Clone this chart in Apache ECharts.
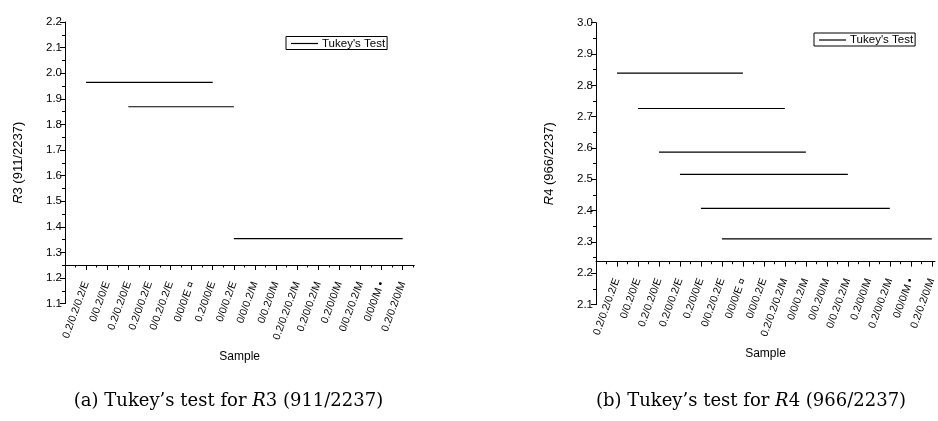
<!DOCTYPE html>
<html>
<head>
<meta charset="utf-8">
<script src="https://cdn.jsdelivr.net/npm/echarts@6/dist/echarts.min.js"></script>
<style>
html,body{margin:0;padding:0;background:#fff;}
#chart{width:938px;height:421px;}
</style>
</head>
<body>
<div id="chart"></div>
<script>
// ---------- DATA ----------
const r3Categories = ['0.2/0.2/0.2/E','0/0.2/0/E','0.2/0.2/0/E','0.2/0/0.2/E','0/0.2/0.2/E','0/0/0/E \u00a4','0.2/0/0/E','0/0/0.2/E','0/0/0.2/M','0/0.2/0/M','0.2/0.2/0.2/M','0.2/0/0.2/M','0.2/0/0/M','0/0.2/0.2/M','0/0/0/M \u2022','0.2/0.2/0/M'];
const r4Categories = ['0.2/0.2/0.2/E','0/0.2/0/E','0.2/0.2/0/E','0.2/0/0.2/E','0.2/0/0/E','0/0.2/0.2/E','0/0/0/E \u00a4','0/0/0.2/E','0.2/0.2/0.2/M','0/0/0.2/M','0/0.2/0/M','0/0.2/0.2/M','0.2/0/0/M','0.2/0/0.2/M','0/0/0/M \u2022','0.2/0.2/0/M'];
// Tukey groups: start category (1-based), end category, mean value
const r3Start = [1, 3, 8];
const r3End   = [7, 8, 16];
const r3Value = [1.964, 1.869, 1.354];
const r4Start = [1, 2, 3, 4, 5, 6];
const r4End   = [7, 9, 10, 12, 14, 16];
const r4Value = [2.839, 2.726, 2.587, 2.516, 2.407, 2.310];
const r3YTicks = [1.1, 2.2];
const r4YTicks = [2.1, 3.0];
const seriesName = "Tukey's Test";

// ---------- CHART ----------
const chart = echarts.init(document.getElementById('chart'), null, {renderer: 'canvas'});
const sans = 'Liberation Sans, Arial, sans-serif';

function xAxis(gi, cats, max, offset, nameGap) {
  const pos = cats.map((c, i) => i + 1);
  return {
    gridIndex: gi, type: 'value', min: 0, max: max, interval: 1,
    position: 'bottom', offset: offset,
    axisLine: {onZero: false, lineStyle: {color: '#000', width: 1}},
    axisTick: {show: true, length: 5, customValues: pos, lineStyle: {color: '#000', width: 1}},
    minorTick: {show: true, splitNumber: 2, length: 2.5, lineStyle: {color: '#000', width: 1}},
    axisLabel: {
      customValues: pos,
      formatter: v => cats[Math.round(v) - 1] || '',
      rotate: 70, margin: 17, fontSize: 10.5, color: '#000', fontFamily: sans
    },
    splitLine: {show: false},
    name: 'Sample', nameLocation: 'middle', nameGap: nameGap,
    nameTextStyle: {fontSize: 12, color: '#000', fontFamily: sans}
  };
}
function yAxis(gi, ticks, nameRich) {
  return {
    gridIndex: gi, type: 'value', min: ticks[0], max: ticks[1], interval: 0.1,
    axisLine: {show: true, onZero: false, lineStyle: {color: '#000', width: 1}},
    axisTick: {show: true, length: 5, lineStyle: {color: '#000', width: 1}},
    minorTick: {show: true, splitNumber: 2, length: 3, lineStyle: {color: '#000', width: 1}},
    axisLabel: {formatter: v => v.toFixed(1), fontSize: 11.5, color: '#000', fontFamily: sans, margin: 3},
    splitLine: {show: false},
    name: nameRich, nameLocation: 'middle', nameGap: 40,
    nameTextStyle: {fontSize: 13, color: '#000', fontFamily: sans,
      rich: {i: {fontStyle: 'italic', fontSize: 13, color: '#000', fontFamily: sans}}}
  };
}
function groupSeries(gi, starts, ends, values) {
  return starts.map((s, k) => ({
    name: seriesName, type: 'line', xAxisIndex: gi, yAxisIndex: gi,
    data: [[s, values[k]], [ends[k], values[k]]],
    symbol: 'none', showSymbol: false, lineStyle: {color: '#000', width: 1.2}, itemStyle: {color: '#000'},
    silent: true, animation: false
  }));
}
function legend(left, top) {
  return {
    data: [{name: seriesName, icon: 'path://M0,0L27,0L27,1.2L0,1.2Z'}],
    left: left, top: top, orient: 'horizontal',
    symbolKeepAspect: true,
    borderColor: '#000', borderWidth: 1, borderRadius: 0,
    padding: [1, 2, 0, 5], itemWidth: 27, itemHeight: 12, itemGap: 4,
    selectedMode: false,
    itemStyle: {color: '#000', borderWidth: 0},
    lineStyle: {width: 0},
    textStyle: {fontSize: 11.5, color: '#000', fontFamily: sans, padding: [0, 0, 0, -1]}
  };
}

const option = {
  backgroundColor: '#fff',
  animation: false,
  grid: [
    {left: 65, top: 22, width: 349.3, height: 281.6},
    {left: 596, top: 22.7, width: 339.8, height: 281.9}
  ],
  xAxis: [
    xAxis(0, r3Categories, 16.55, -38.6, 86),
    xAxis(1, r4Categories, 16.15, -42.9, 86)
  ],
  yAxis: [
    yAxis(0, r3YTicks, '{i|R}3 (911/2237)'),
    yAxis(1, r4YTicks, '{i|R}4 (966/2237)')
  ],
  legend: [legend(286, 36.5), legend(814, 33)],
  series: groupSeries(0, r3Start, r3End, r3Value).concat(groupSeries(1, r4Start, r4End, r4Value)),
  graphic: [
    {type: 'text', x: 228.5, y: 401,
     style: {text: '(a) Tukey\u2019s test for {i|R}3 (911/2237)', fontSize: 18, fontFamily: 'DejaVu Serif', fill: '#000',
       align: 'center', verticalAlign: 'middle',
       rich: {i: {fontStyle: 'italic', fontSize: 18, fontFamily: 'DejaVu Serif', fill: '#000'}}}},
    {type: 'text', x: 751, y: 401,
     style: {text: '(b) Tukey\u2019s test for {i|R}4 (966/2237)', fontSize: 18, fontFamily: 'DejaVu Serif', fill: '#000',
       align: 'center', verticalAlign: 'middle',
       rich: {i: {fontStyle: 'italic', fontSize: 18, fontFamily: 'DejaVu Serif', fill: '#000'}}}}
  ]
};
chart.setOption(option);
</script>
</body>
</html>
